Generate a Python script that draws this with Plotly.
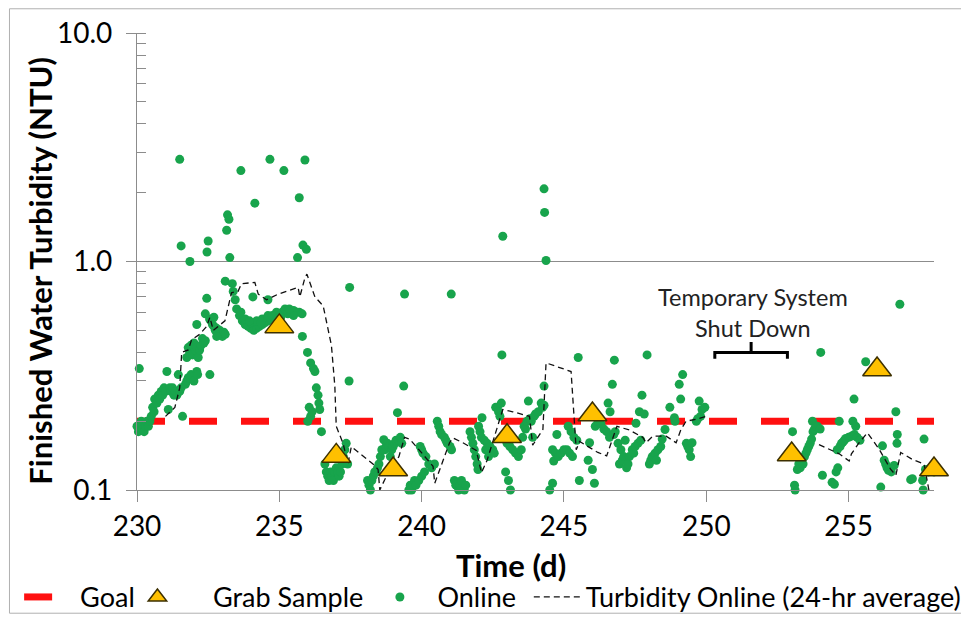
import plotly.graph_objects as go

# ---------------- data ----------------
goal_day = [230, 258]
goal_ntu = [0.2, 0.2]

grab_day = [235, 237, 239, 243, 246, 253, 256, 258]
grab_ntu = [0.52, 0.141, 0.123, 0.172, 0.214, 0.143, 0.337, 0.123]

online_day = [
    230.0, 230.05, 230.1, 230.15, 230.2, 230.25, 230.3, 230.35, 230.4, 230.45, 230.08, 230.5, 230.55, 230.6,
    230.62, 230.7, 230.75, 230.8, 230.85, 230.9, 230.95, 231.0, 231.05, 231.1, 231.15, 231.2, 231.25, 231.3,
    231.35, 231.4, 231.45, 231.5, 231.55, 231.6, 231.5, 231.55, 231.86,
    231.7, 231.75, 231.8, 231.9, 232.0, 232.1, 232.13, 232.56,
    231.75, 231.8, 231.85, 231.9, 231.95, 232.0, 232.05, 232.1, 232.15, 232.2, 232.25, 232.3, 232.35, 232.4,
    232.1, 232.4, 232.45, 232.5, 232.46,
    232.55, 232.6, 232.65, 232.7, 232.75, 232.8, 232.85, 232.9, 232.95, 233.0, 233.05, 233.1, 232.7, 232.8,
    233.1, 233.35, 233.38, 233.45, 233.15, 233.18, 233.23, 233.26, 233.65, 234.14, 234.67, 235.16, 235.9,
    235.7, 235.83, 235.95, 235.64, 234.07, 234.6,
    233.5, 233.6, 233.7, 233.8, 233.9, 234.0, 234.1, 234.2, 234.3, 234.4, 234.5, 234.6, 234.7, 234.8,
    234.9, 235.0, 235.1, 235.2, 235.3, 235.4, 235.5, 235.6, 235.7, 235.8,
    233.8, 234.0, 234.2, 234.4, 234.6, 234.9, 235.2, 235.5, 233.65, 233.95, 234.35, 234.75, 235.05, 235.35,
    235.81, 235.99, 236.1, 236.25, 236.2, 236.3, 236.36, 236.39, 236.05, 236.1, 236.0, 236.42, 236.48, 236.15,
    236.6, 236.65, 236.7, 236.75, 236.8, 236.85, 236.9, 236.95, 237.0, 237.05, 237.1, 237.15, 237.2, 237.25,
    237.3, 237.35, 237.4, 237.18, 237.45, 237.47,
    238.1, 238.15, 238.2, 238.25, 238.3, 238.35, 238.4, 238.45, 238.5, 238.55, 238.6, 238.67, 238.7, 238.75,
    238.8, 238.85, 238.9, 238.95, 239.0, 239.05, 239.1, 239.15, 239.2, 239.25, 239.3, 239.37, 239.4,
    239.55, 239.6, 239.65, 239.7, 239.75, 239.8, 239.9, 240.0, 240.1, 239.95, 240.0, 240.05, 240.15, 240.25,
    240.35, 240.45,
    240.55, 240.6, 240.65, 240.7, 240.8, 240.85, 240.9, 241.0, 241.05, 241.04,
    241.15, 241.2, 241.3, 241.35, 241.4, 241.5, 241.55,
    241.7, 241.75, 241.8, 241.85, 241.9, 241.95, 241.98, 242.0, 242.05, 242.1, 242.12, 242.2, 242.25, 242.3,
    242.35, 242.4, 242.5, 242.55, 242.6, 242.66, 242.7, 242.75, 242.8, 242.82, 242.85,
    242.9, 242.95, 243.0, 243.05, 243.1, 243.12, 243.2, 243.3, 243.4, 243.5,
    243.55, 243.6, 243.65, 243.7, 243.75, 243.8, 243.85, 243.9, 243.95, 244.0, 244.1, 244.2, 244.25, 244.3,
    244.3, 244.3, 244.32, 244.37,
    244.5, 244.6, 244.64, 244.6, 244.7, 244.75, 244.8, 244.9, 245.0, 245.1, 245.15, 245.2, 245.25, 245.3,
    245.35, 245.45, 245.5, 245.54,
    245.85, 245.9, 246.0, 246.07, 246.1, 246.2, 246.3, 246.4, 246.5, 246.55, 246.6, 246.62, 246.7, 246.77,
    246.75, 246.8,
    246.9, 246.95, 247.0, 247.05, 247.1, 247.15, 247.2, 247.25, 247.3, 247.4, 247.45, 247.5, 247.53, 247.6,
    247.65, 247.7, 247.74, 247.82, 247.92,
    248.0, 248.05, 248.1, 248.2, 248.25, 248.3, 248.4, 248.45, 248.55, 248.72, 248.88, 248.9,
    249.05, 249.1, 249.17, 249.3, 249.35, 249.4, 249.45, 249.5, 249.65, 249.7, 249.75, 249.8, 249.85, 249.95,
    253.03, 253.1, 253.12, 253.2, 253.25, 253.3, 253.4, 253.45, 253.5, 253.55, 253.6, 253.65, 253.7, 253.73,
    253.75, 253.8, 253.85, 253.9, 254.0, 254.02, 254.08,
    254.42, 254.5, 254.56, 254.6, 254.62, 254.67, 254.7, 254.75, 254.8, 254.85, 254.9, 255.0, 255.1, 255.15,
    255.19, 255.2, 255.25, 255.3, 255.4, 255.6,
    256.13, 256.19, 256.25, 256.3, 256.35, 256.4, 256.5, 256.6, 256.66, 256.7, 256.71, 256.8, 257.18, 257.24,
    257.6, 257.62, 257.65, 257.7, 257.8, 257.9, 258.0,
]
online_ntu = [
    0.19, 0.18, 0.19, 0.2, 0.185, 0.18, 0.19, 0.2, 0.19, 0.2, 0.34, 0.21, 0.23, 0.22,
    0.25, 0.24, 0.26, 0.25, 0.27, 0.26, 0.28, 0.27, 0.33, 0.225, 0.28, 0.27, 0.28, 0.26,
    0.27, 0.26, 0.32, 0.27, 0.28, 0.21, 2.8, 1.17, 1.0,
    0.29, 0.3, 0.31, 0.32, 0.3, 0.33, 0.32, 0.32,
    0.38, 0.42, 0.4, 0.43, 0.39, 0.44, 0.41, 0.42, 0.38, 0.41, 0.43, 0.46, 0.44, 0.45,
    0.53, 0.59, 0.69, 1.23, 1.1,
    0.56, 0.55, 0.53, 0.52, 0.5, 0.51, 0.49, 0.5, 0.48, 0.47, 0.49, 0.48, 0.57, 0.47,
    0.82, 0.8, 0.74, 0.68, 1.37, 1.6, 1.53, 1.04, 2.5, 1.8, 2.8, 2.5, 2.78,
    1.9, 1.18, 1.13, 1.04, 0.7, 0.68,
    0.62, 0.58, 0.55, 0.53, 0.52, 0.51, 0.5, 0.51, 0.52, 0.53, 0.54, 0.55, 0.56, 0.57,
    0.58, 0.59, 0.6, 0.6, 0.59, 0.6, 0.61, 0.6, 0.6, 0.59,
    0.56, 0.54, 0.55, 0.56, 0.58, 0.6, 0.62, 0.58, 0.6, 0.55, 0.54, 0.58, 0.57, 0.62,
    0.47, 0.4, 0.36, 0.33, 0.34, 0.28, 0.26, 0.24, 0.23, 0.21, 0.2, 0.225, 0.18, 0.22,
    0.13, 0.12, 0.115, 0.11, 0.12, 0.115, 0.11, 0.12, 0.125, 0.12, 0.115, 0.12, 0.13, 0.14,
    0.15, 0.16, 0.13, 0.146, 0.30, 0.77,
    0.11, 0.105, 0.1, 0.11, 0.115, 0.12, 0.12, 0.125, 0.13, 0.14, 0.15, 0.166, 0.15, 0.155,
    0.16, 0.155, 0.14, 0.15, 0.155, 0.16, 0.165, 0.218, 0.165, 0.17, 0.16, 0.285, 0.72,
    0.1, 0.105, 0.1, 0.105, 0.11, 0.105, 0.11, 0.115, 0.12, 0.155, 0.15, 0.145, 0.14, 0.13,
    0.125, 0.13,
    0.2, 0.19, 0.18, 0.175, 0.17, 0.165, 0.16, 0.155, 0.15, 0.72,
    0.11, 0.105, 0.1, 0.105, 0.11, 0.1, 0.105,
    0.18, 0.17, 0.16, 0.15, 0.14, 0.13, 0.123, 0.19, 0.18, 0.17, 0.207, 0.165, 0.15, 0.16,
    0.14, 0.155, 0.15, 0.145, 0.23, 0.23, 0.22, 0.21, 0.24, 0.39, 1.29,
    0.17, 0.12, 0.16, 0.11, 0.155, 0.1, 0.15, 0.145, 0.14, 0.15,
    0.17, 0.19, 0.185, 0.2, 0.245, 0.205, 0.2, 0.17, 0.21, 0.215, 0.22, 0.24, 0.23, 0.235,
    0.285, 2.08, 1.64, 1.01,
    0.1, 0.107, 0.134, 0.15, 0.145, 0.175, 0.14, 0.145, 0.15, 0.15, 0.19, 0.145, 0.18, 0.14,
    0.17, 0.165, 0.38, 0.11,
    0.135, 0.161, 0.123, 0.107, 0.19, 0.2, 0.195, 0.185, 0.18, 0.24, 0.17, 0.22, 0.29, 0.37,
    0.175, 0.18,
    0.16, 0.13, 0.15, 0.135, 0.14, 0.165, 0.125, 0.13, 0.14, 0.15, 0.145, 0.155, 0.196, 0.16,
    0.22, 0.165, 0.26, 0.215, 0.39,
    0.13, 0.135, 0.14, 0.145, 0.135, 0.15, 0.155, 0.167, 0.184, 0.23, 0.207, 0.2,
    0.29, 0.25, 0.32, 0.16, 0.155, 0.15, 0.14, 0.161, 0.2, 0.205, 0.245, 0.21, 0.225, 0.23,
    0.18, 0.105, 0.1, 0.123, 0.13, 0.125, 0.13, 0.14, 0.145, 0.15, 0.155, 0.16, 0.167, 0.2,
    0.18, 0.185, 0.19, 0.19, 0.185, 0.40, 0.116,
    0.108, 0.106, 0.12, 0.15, 0.125, 0.2, 0.155, 0.16, 0.162, 0.165, 0.168, 0.17, 0.172, 0.2,
    0.25, 0.175, 0.19, 0.17, 0.165, 0.364,
    0.103, 0.156, 0.135, 0.13, 0.125, 0.122, 0.12, 0.128, 0.22, 0.16, 0.175, 0.65, 0.111, 0.112,
    0.11, 0.1, 0.167, 0.123, 0.12, 0.125, 0.12,
]

avg_day = [
    231.0, 231.33, 231.5, 231.57, 231.8, 231.92, 232.2, 232.45, 232.56, 232.68, 232.85, 233.09, 233.32,
    233.55, 233.67, 234.14, 234.26, 234.55, 234.96, 235.43, 235.66, 235.72, 235.9, 235.97, 236.13, 236.25,
    236.54, 236.83, 236.95, 237.0, 237.24, 237.41, 237.53, 238.29, 238.47, 238.53, 238.82, 239.2, 239.4,
    239.58, 240.05, 240.4, 240.46, 240.63, 240.98, 241.1, 241.45, 241.92, 242.1, 242.3, 242.85, 243.2,
    243.79, 243.9, 244.26, 244.37, 245.25, 245.43, 245.55, 246.19, 246.5, 246.86, 247.3, 247.77, 247.88,
    248.12, 248.59, 248.94, 249.11, 249.29, 249.64, 249.99,
    251.5,
    253.96, 254.2, 254.67, 255.02, 255.1, 255.37, 255.66, 256.07, 256.48, 256.66, 256.83, 257.24, 257.65,
    257.82,
]
avg_ntu = [
    0.21, 0.23, 0.28, 0.40, 0.41, 0.455, 0.48, 0.52, 0.57, 0.50, 0.52, 0.55, 0.73,
    0.74, 0.80, 0.81, 0.72, 0.68, 0.72, 0.75, 0.77, 0.70, 0.85, 0.88, 0.78, 0.70,
    0.64, 0.43, 0.285, 0.19, 0.16, 0.13, 0.155, 0.13, 0.123, 0.10, 0.119, 0.14, 0.17,
    0.167, 0.143, 0.127, 0.107, 0.123, 0.161, 0.169, 0.161, 0.149, 0.119, 0.135, 0.225, 0.22,
    0.21, 0.157, 0.184, 0.36, 0.33, 0.15, 0.163, 0.146, 0.141, 0.19, 0.183, 0.17, 0.161,
    0.172, 0.172, 0.161, 0.184, 0.2, 0.204, 0.21,
    None,
    0.158, 0.153, 0.144, 0.134, 0.144, 0.161, 0.178, 0.151, 0.123, 0.116, 0.146, 0.136, 0.13,
    0.10,
]

x_ticks = [230, 235, 240, 245, 250, 255]
y_ticks = [0.1, 1.0, 10.0]
y_tick_text = ["0.1", "1.0", "10.0"]

shutdown_start, shutdown_end = 250.3, 252.85

# ---------------- figure ----------------
FONT = "Lato"
GRID = "#8c8c8c"
LEG_FONT = dict(family=FONT, size=27, color="black")
LEG_Y = -0.235

fig = go.Figure()

fig.add_trace(go.Scatter(
    x=goal_day, y=goal_ntu, mode="lines", name="Goal", legend="legend",
    line=dict(color="#ff1010", width=7, dash="28px,24px"),
))
fig.add_trace(go.Scatter(
    x=online_day, y=online_ntu, mode="markers", name="Online", legend="legend3",
    marker=dict(color="#18a44c", size=9, line=dict(width=0)), cliponaxis=False,
))
fig.add_trace(go.Scatter(
    x=avg_day, y=avg_ntu, mode="lines", name="Turbidity Online (24-hr average)", legend="legend4",
    line=dict(color="#111111", width=1.3, dash="6px,4px"), connectgaps=False,
))
fig.add_trace(go.Scatter(
    x=grab_day, y=grab_ntu, mode="markers", name="Grab Sample", legend="legend2",
    marker=dict(symbol="triangle-up", size=25, color="#ffc000",
                line=dict(color="#3d3000", width=1.5)),
    cliponaxis=False,
))

# shutdown bracket
mid = (shutdown_start + shutdown_end) / 2
fig.add_shape(type="path", xref="x", yref="paper",
              path=f"M {shutdown_start},0.287 L {shutdown_start},0.301 L {shutdown_end},0.301 L {shutdown_end},0.287 "
                   f"M {mid},0.301 L {mid},0.324",
              line=dict(color="black", width=3))
fig.add_annotation(x=mid + 0.05, xref="x", y=0.388, yref="paper",
                   text="Temporary System<br>Shut Down", showarrow=False,
                   font=dict(family=FONT, size=23.5, color="#222"), align="center")

# titles as annotations
fig.add_annotation(x=-0.1216, xref="paper", y=0.48, yref="paper", textangle=-90,
                   xanchor="center", yanchor="middle",
                   text="<b>Finished Water Turbidity (NTU)</b>", showarrow=False,
                   font=dict(family=FONT, size=31, color="black"))
fig.add_annotation(x=0.469, xref="paper", y=-0.1645, yref="paper",
                   xanchor="center", yanchor="middle",
                   text="<b>Time (d)</b>", showarrow=False,
                   font=dict(family=FONT, size=31, color="black"))

# outer chart border
fig.add_shape(type="rect", xref="paper", yref="paper", x0=-0.160, x1=1.0376, y0=-0.2696, y1=1.053,
              line=dict(color="#b0b0b0", width=1))


def leg(xpos, w):
    return dict(orientation="h", x=xpos, xanchor="left", y=LEG_Y, yanchor="middle",
                font=LEG_FONT, itemwidth=w, bgcolor="rgba(0,0,0,0)")


fig.update_layout(
    width=969, height=622,
    margin=dict(l=128.5, r=42.5, t=24.5, b=139.5, autoexpand=False),
    plot_bgcolor="white", paper_bgcolor="white",
    font=dict(family=FONT, color="black"),
    showlegend=True,
    legend=leg(-0.1479, 51),
    legend2=leg(-0.0440, 101),
    legend3=leg(0.2828, 65),
    legend4=leg(0.4916, 47),
)
fig.update_xaxes(
    range=[230, 258], tickvals=x_ticks, showgrid=False, zeroline=False,
    showline=True, linecolor=GRID, linewidth=1.2,
    ticks="outside", ticklen=11, tickcolor=GRID,
    tickfont=dict(family=FONT, size=28, color="black"),
)
fig.update_yaxes(
    type="log", range=[-1, 1], tickvals=y_ticks, ticktext=y_tick_text,
    showgrid=True, gridcolor=GRID, gridwidth=1, zeroline=False,
    showline=True, linecolor=GRID, linewidth=1.2,
    ticks="outside", ticklen=10, tickcolor=GRID, ticklabelstandoff=8,
    tickfont=dict(family=FONT, size=28, color="black"),
    minor=dict(ticks="inside", ticklen=9, tickcolor=GRID, dtick="D1", showgrid=False),
)

fig.write_html("out.html")
